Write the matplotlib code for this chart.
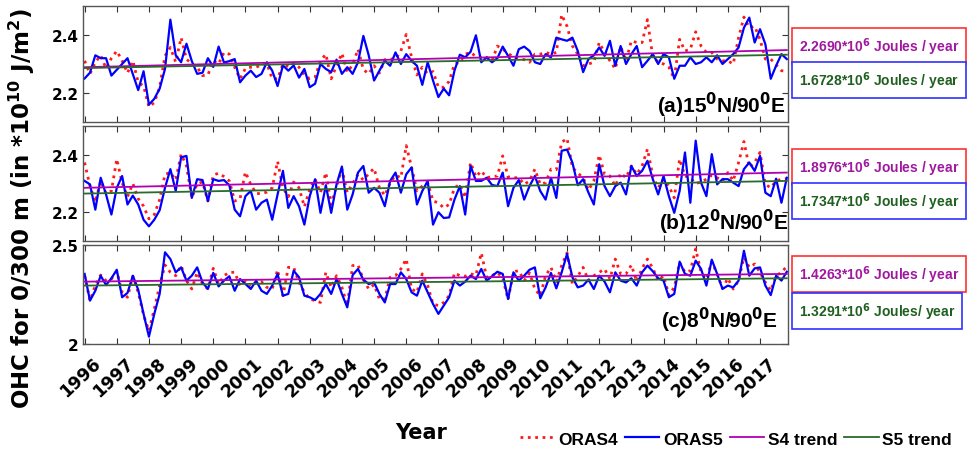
import numpy as np
import matplotlib
matplotlib.use("Agg")
import matplotlib.pyplot as plt
import matplotlib.transforms as mtransforms

plt.rcParams['font.family'] = 'DejaVu Sans'
plt.rcParams['font.weight'] = 'bold'
plt.rcParams['mathtext.default'] = 'bf'

# bimonthly samples, Jan 1996 .. Nov 2017
years = list(range(1996, 2018))

p1_oras5 = [2.25, 2.27, 2.33, 2.32, 2.32, 2.26, 2.28, 2.30, 2.32, 2.265, 2.21, 2.275,
            2.16, 2.18, 2.215, 2.283, 2.453, 2.33, 2.306, 2.37, 2.31, 2.266, 2.27, 2.32,
            2.29, 2.36, 2.305, 2.31, 2.317, 2.237, 2.26, 2.277, 2.255, 2.266, 2.306, 2.277,
            2.224, 2.295, 2.277, 2.295, 2.253, 2.283, 2.22, 2.232, 2.30, 2.283, 2.272, 2.315,
            2.266, 2.289, 2.266, 2.306, 2.397, 2.33, 2.243, 2.277, 2.311, 2.294, 2.34, 2.30,
            2.334, 2.311, 2.294, 2.228, 2.306, 2.243, 2.186, 2.215, 2.192, 2.277, 2.332, 2.323,
            2.342, 2.399, 2.306, 2.323, 2.306, 2.32, 2.36, 2.328, 2.294, 2.351, 2.36, 2.345,
            2.306, 2.30, 2.334, 2.323, 2.391, 2.385, 2.38, 2.391, 2.345, 2.272, 2.317, 2.33,
            2.357, 2.328, 2.38, 2.294, 2.362, 2.30, 2.334, 2.362, 2.289, 2.311, 2.334, 2.30,
            2.334, 2.323, 2.249, 2.294, 2.294, 2.323, 2.30, 2.306, 2.323, 2.306, 2.33, 2.30,
            2.317, 2.334, 2.357, 2.425, 2.46, 2.374, 2.42, 2.368, 2.249, 2.294, 2.334, 2.317]

p1_oras4 = [2.311, 2.266, 2.306, 2.33, 2.285, 2.32, 2.345, 2.311, 2.269, 2.311, 2.237, 2.224,
            2.152, 2.167, 2.22, 2.328, 2.357, 2.306, 2.391, 2.317, 2.30, 2.289, 2.26, 2.262,
            2.311, 2.30, 2.34, 2.334, 2.289, 2.249, 2.285, 2.289, 2.289, 2.297, 2.302, 2.249,
            2.249, 2.30, 2.291, 2.303, 2.289, 2.262, 2.249, 2.255, 2.311, 2.334, 2.249, 2.294,
            2.337, 2.272, 2.297, 2.351, 2.281, 2.266, 2.294, 2.269, 2.315, 2.317, 2.317, 2.345,
            2.402, 2.323, 2.262, 2.289, 2.266, 2.274, 2.22, 2.22, 2.24, 2.30, 2.306, 2.334,
            2.34, 2.326, 2.323, 2.323, 2.311, 2.362, 2.351, 2.337, 2.323, 2.32, 2.315, 2.306,
            2.334, 2.334, 2.34, 2.334, 2.34, 2.47, 2.43, 2.362, 2.334, 2.294, 2.30, 2.306,
            2.374, 2.34, 2.311, 2.283, 2.36, 2.311, 2.38, 2.374, 2.374, 2.453, 2.323, 2.308,
            2.30, 2.289, 2.249, 2.385, 2.345, 2.351, 2.411, 2.362, 2.34, 2.34, 2.317, 2.311,
            2.311, 2.30, 2.391, 2.462, 2.425, 2.43, 2.385, 2.317, 2.317, 2.297, 2.277, 2.274]

p2_oras5 = [2.309, 2.297, 2.209, 2.32, 2.262, 2.192, 2.285, 2.326, 2.227, 2.258, 2.227, 2.174,
            2.151, 2.174, 2.207, 2.285, 2.35, 2.274, 2.391, 2.396, 2.25, 2.315, 2.312, 2.239,
            2.315, 2.309, 2.312, 2.294, 2.209, 2.186, 2.256, 2.274, 2.209, 2.233, 2.244, 2.174,
            2.262, 2.344, 2.215, 2.256, 2.221, 2.157, 2.256, 2.315, 2.198, 2.294, 2.198, 2.297,
            2.359, 2.209, 2.262, 2.338, 2.361, 2.268, 2.285, 2.268, 2.221, 2.309, 2.338, 2.268,
            2.332, 2.356, 2.227, 2.274, 2.309, 2.157, 2.20, 2.18, 2.182, 2.244, 2.291, 2.192,
            2.361, 2.309, 2.309, 2.32, 2.295, 2.291, 2.338, 2.221, 2.285, 2.312, 2.244, 2.291,
            2.326, 2.274, 2.244, 2.32, 2.25, 2.414, 2.418, 2.373, 2.294, 2.315, 2.268, 2.227,
            2.367, 2.291, 2.256, 2.291, 2.303, 2.262, 2.361, 2.326, 2.344, 2.379, 2.315, 2.262,
            2.326, 2.256, 2.198, 2.274, 2.408, 2.233, 2.449, 2.303, 2.256, 2.402, 2.297, 2.315,
            2.315, 2.303, 2.291, 2.35, 2.373, 2.344, 2.396, 2.268, 2.256, 2.317, 2.233, 2.32]

p2_oras4 = [2.373, 2.291, 2.235, 2.309, 2.265, 2.274, 2.385, 2.303, 2.254, 2.30, 2.247, 2.221,
            2.177, 2.192, 2.244, 2.332, 2.338, 2.312, 2.402, 2.361, 2.25, 2.30, 2.305, 2.239,
            2.329, 2.336, 2.324, 2.309, 2.239, 2.247, 2.34, 2.297, 2.265, 2.265, 2.27, 2.285,
            2.377, 2.285, 2.254, 2.305, 2.285, 2.219, 2.28, 2.315, 2.268, 2.338, 2.227, 2.291,
            2.35, 2.268, 2.30, 2.332, 2.312, 2.334, 2.353, 2.285, 2.258, 2.303, 2.329, 2.32,
            2.432, 2.356, 2.274, 2.291, 2.303, 2.239, 2.233, 2.215, 2.227, 2.285, 2.297, 2.25,
            2.373, 2.323, 2.344, 2.32, 2.324, 2.326, 2.396, 2.323, 2.32, 2.32, 2.297, 2.309,
            2.35, 2.297, 2.303, 2.35, 2.348, 2.443, 2.457, 2.356, 2.336, 2.32, 2.277, 2.309,
            2.399, 2.332, 2.326, 2.291, 2.336, 2.32, 2.361, 2.332, 2.361, 2.42, 2.326, 2.285,
            2.315, 2.291, 2.25, 2.385, 2.326, 2.32, 2.30, 2.305, 2.315, 2.329, 2.32, 2.309,
            2.338, 2.309, 2.373, 2.446, 2.356, 2.373, 2.408, 2.297, 2.285, 2.309, 2.315, 2.317]

p3_oras5 = [2.354, 2.219, 2.269, 2.345, 2.298, 2.332, 2.375, 2.236, 2.258, 2.345, 2.274, 2.152,
            2.037, 2.152, 2.253, 2.463, 2.429, 2.362, 2.387, 2.32, 2.345, 2.387, 2.311, 2.278,
            2.359, 2.291, 2.32, 2.342, 2.269, 2.328, 2.303, 2.278, 2.32, 2.269, 2.253, 2.295,
            2.354, 2.244, 2.253, 2.37, 2.337, 2.244, 2.236, 2.222, 2.253, 2.303, 2.253, 2.328,
            2.253, 2.185, 2.348, 2.379, 2.325, 2.303, 2.311, 2.253, 2.21, 2.303, 2.303, 2.362,
            2.328, 2.261, 2.244, 2.32, 2.261, 2.202, 2.152, 2.194, 2.236, 2.32, 2.295, 2.315,
            2.345, 2.328, 2.379, 2.32, 2.342, 2.365, 2.354, 2.227, 2.362, 2.32, 2.345, 2.375,
            2.387, 2.231, 2.286, 2.359, 2.281, 2.362, 2.455, 2.337, 2.286, 2.295, 2.325, 2.278,
            2.345, 2.315, 2.261, 2.362, 2.32, 2.311, 2.332, 2.295, 2.362, 2.396, 2.367, 2.332,
            2.32, 2.236, 2.253, 2.416, 2.354, 2.345, 2.421, 2.379, 2.295, 2.426, 2.354, 2.278,
            2.295, 2.286, 2.32, 2.471, 2.345, 2.382, 2.387, 2.295, 2.247, 2.345, 2.32, 2.365]

p3_oras4 = [2.345, 2.219, 2.295, 2.348, 2.32, 2.328, 2.367, 2.261, 2.236, 2.342, 2.261, 2.146,
            2.067, 2.177, 2.295, 2.399, 2.362, 2.345, 2.396, 2.32, 2.278, 2.362, 2.303, 2.278,
            2.382, 2.303, 2.345, 2.362, 2.362, 2.295, 2.315, 2.286, 2.311, 2.315, 2.286, 2.278,
            2.375, 2.244, 2.387, 2.387, 2.311, 2.261, 2.227, 2.219, 2.21, 2.362, 2.286, 2.345,
            2.286, 2.194, 2.396, 2.399, 2.325, 2.278, 2.30, 2.227, 2.227, 2.337, 2.345, 2.379,
            2.429, 2.278, 2.261, 2.354, 2.295, 2.202, 2.194, 2.21, 2.244, 2.359, 2.345, 2.342,
            2.354, 2.348, 2.46, 2.337, 2.345, 2.362, 2.332, 2.224, 2.365, 2.37, 2.32, 2.359,
            2.278, 2.244, 2.345, 2.387, 2.315, 2.396, 2.46, 2.303, 2.342, 2.387, 2.32, 2.345,
            2.362, 2.379, 2.328, 2.429, 2.354, 2.354, 2.399, 2.315, 2.382, 2.429, 2.382, 2.32,
            2.345, 2.247, 2.286, 2.412, 2.362, 2.37, 2.48, 2.362, 2.328, 2.416, 2.354, 2.281,
            2.332, 2.278, 2.32, 2.438, 2.387, 2.404, 2.362, 2.311, 2.269, 2.345, 2.362, 2.392]

# trend line values at first / last sample
s4_trend = [[2.289, 2.348], [2.285, 2.338], [2.315, 2.354]]
s5_trend = [[2.286, 2.332], [2.265, 2.309], [2.295, 2.332]]

s4_text = ['2.2690*10$^6$ Joules / year', '1.8976*10$^6$ Joules / year',
           '1.4263*10$^6$ Joules / year']
s5_text = ['1.6728*10$^6$ Joules / year', '1.7347*10$^6$ Joules / year',
           '1.3291*10$^6$ Joules/ year']
panel_labels = ['(a)15$^0$N/90$^0$E', '(b)12$^0$N/90$^0$E', '(c)8$^0$N/90$^0$E']
ylims = [(2.1, 2.5), (2.1, 2.5), (2.0, 2.5)]
yticks = [[2.2, 2.4], [2.2, 2.4], [2.0, 2.5]]
yticklabels = [['2.2', '2.4'], ['2.2', '2.4'], ['2', '2.5']]

oras4 = [p1_oras4, p2_oras4, p3_oras4]
oras5 = [p1_oras5, p2_oras5, p3_oras5]

t = 1996 + np.arange(len(p1_oras5)) / 6.0

W, H = 976, 452
fig = plt.figure(figsize=(W / 100, H / 100), dpi=100)

# axes boxes in pixels: (top, bottom)
boxes = [(7, 123), (127, 242), (246, 345)]
left, right = 83, 788
label_pos = [(0.996, 0.03), (1.0, 0.045), (0.986, 0.10)]
s4_box_y = [47, 168, 275]
s5_box_y = [81, 202, 312]

purple = '#a0189f'
dkgreen = '#1f5f1f'

for i in range(3):
    top, bot = boxes[i]
    ax = fig.add_axes([left / W, 1 - bot / H, (right - left) / W, (bot - top) / H])
    l4, = ax.plot(t, oras4[i], color='#ff1a1a', ls=':', lw=2.0)
    l5, = ax.plot(t, oras5[i], color='#0000ff', lw=1.6)
    tr4, = ax.plot([t[0], t[-1]], s4_trend[i], color='#b000b0', lw=1.3)
    tr5, = ax.plot([t[0], t[-1]], s5_trend[i], color='#2a6a2a', lw=1.3)
    ax.set_xlim(1995.95, 2017.87)
    ax.set_ylim(*ylims[i])
    ax.set_yticks(yticks[i])
    ax.set_yticklabels(yticklabels[i])
    ax.set_xticks(years)
    ax.tick_params(direction='in', top=True, right=True, length=4.5, width=0.8,
                   labelsize=11, colors='#333333', labelcolor='black', pad=3)
    for s in ax.spines.values():
        s.set_color('#555555')
        s.set_linewidth(1.0)
    if i < 2:
        ax.set_xticklabels([])
    else:
        ax.set_xticklabels([str(y) for y in years], rotation=43, ha='right',
                           va='center', rotation_mode='anchor', fontsize=12.5,
                           fontweight='bold')
        shift = mtransforms.ScaledTranslation(14 / 100, -12 / 100, fig.dpi_scale_trans)
        for lab in ax.get_xticklabels():
            lab.set_transform(lab.get_transform() + shift)
    lx, ly = label_pos[i]
    ax.text(lx, ly, panel_labels[i], transform=ax.transAxes, ha='right', va='bottom',
            fontsize=15, fontweight='bold', family='Liberation Sans')

    fig.text(799 / W, 1 - s4_box_y[i] / H, s4_text[i], color=purple, fontsize=10,
             fontweight='bold', family='Liberation Sans', va='center', ha='left',
             bbox=dict(boxstyle='square,pad=0.5', fc='white', ec='#ff3030', lw=1.2))
    fig.text(799 / W, 1 - s5_box_y[i] / H, s5_text[i], color=dkgreen, fontsize=10,
             fontweight='bold', family='Liberation Sans', va='center', ha='left',
             bbox=dict(boxstyle='square,pad=0.5', fc='white', ec='#3030ff', lw=1.2))

fig.text(22 / W, 1 - 209 / H, 'OHC for 0/300 m (in *10$^{10}$ J/m$^2$)', rotation=90,
         ha='center', va='center', fontsize=16.5, fontweight='bold')
fig.text(421 / W, 1 - 433 / H, 'Year', ha='center', va='center', fontsize=15,
         fontweight='bold')

fig.legend([l4, l5, tr4, tr5], ['ORAS4', 'ORAS5', 'S4 trend', 'S5 trend'],
           loc='center', bbox_to_anchor=(736 / W, 1 - 440 / H), ncol=4, frameon=False,
           handlelength=2.0, handletextpad=0.2, columnspacing=0.4,
           prop={'family': 'Liberation Sans', 'weight': 'bold', 'size': 12.5})

fig.savefig('out.png', dpi=100)
